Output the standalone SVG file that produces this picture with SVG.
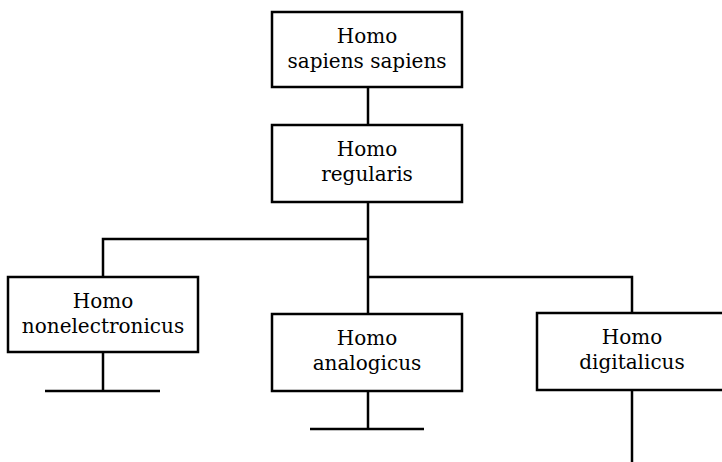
<svg xmlns="http://www.w3.org/2000/svg" width="722" height="462" viewBox="0 0 722 462">
<style>
.box{fill:#fff;stroke:#000;stroke-width:2.5}
.ln{fill:none;stroke:#000;stroke-width:2.5}
text{font-family:"DejaVu Serif","Liberation Serif",serif;font-size:20px;text-anchor:middle;fill:#000}
</style>
<rect width="722" height="462" fill="#fff"/>
<g id="connectors">
<line class="ln" x1="368" y1="87" x2="368" y2="125"/>
<line class="ln" x1="368" y1="202" x2="368" y2="314"/>
<polyline class="ln" points="368,239 103,239 103,277"/>
<polyline class="ln" points="368,277 632,277 632,313"/>
<line class="ln" x1="103" y1="352" x2="103" y2="391"/>
<line class="ln" x1="45" y1="391" x2="160" y2="391"/>
<line class="ln" x1="368" y1="391" x2="368" y2="429"/>
<line class="ln" x1="310" y1="429" x2="424" y2="429"/>
<line class="ln" x1="632" y1="390" x2="632" y2="462"/>
</g>
<g id="sapiens">
<rect class="box" x="272" y="12" width="190" height="75"/>
<text x="367" y="43">Homo</text>
<text x="367" y="68">sapiens sapiens</text>
</g>
<g id="regularis">
<rect class="box" x="272" y="125" width="190" height="77"/>
<text x="367" y="156">Homo</text>
<text x="367" y="181">regularis</text>
</g>
<g id="nonelectronicus">
<rect class="box" x="8" y="277" width="190" height="75"/>
<text x="103" y="308">Homo</text>
<text x="103" y="333">nonelectronicus</text>
</g>
<g id="analogicus">
<rect class="box" x="272" y="314" width="190" height="77"/>
<text x="367" y="345">Homo</text>
<text x="367" y="370">analogicus</text>
</g>
<g id="digitalicus">
<rect class="box" x="537" y="313" width="190" height="77"/>
<text x="632" y="344">Homo</text>
<text x="632" y="369">digitalicus</text>
</g>
</svg>
